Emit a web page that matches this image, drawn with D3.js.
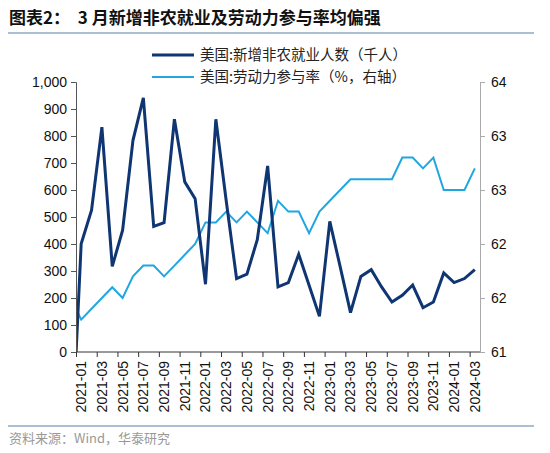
<!DOCTYPE html>
<html>
<head>
<meta charset="utf-8">
<script src="https://cdn.jsdelivr.net/npm/d3@7"></script>
<style>
  html, body { margin: 0; padding: 0; background: #fff; }
  svg { display: block; }
</style>
</head>
<body>
<svg id="chart" width="550" height="453"></svg>
<script>
// ---- Data ----
const months = [
  "2021-01","2021-02","2021-03","2021-04","2021-05","2021-06","2021-07","2021-08","2021-09","2021-10","2021-11","2021-12",
  "2022-01","2022-02","2022-03","2022-04","2022-05","2022-06","2022-07","2022-08","2022-09","2022-10","2022-11","2022-12",
  "2023-01","2023-02","2023-03","2023-04","2023-05","2023-06","2023-07","2023-08","2023-09","2023-10","2023-11","2023-12",
  "2024-01","2024-02","2024-03"
];
// value for 2020-12 (just before the axis start; drawn clipped)
const priorPayrolls = -420;
const priorParticipation = 61.5;
// 美国:新增非农就业人数（千人）
const payrolls = [
  401, 525, 833, 317, 451, 784, 941, 465, 479, 862, 630, 568,
  251, 862, 560, 272, 288, 416, 689, 241, 257, 362, 247, 132,
  484, 316, 146, 280, 305, 241, 185, 210, 248, 164, 185, 293,
  257, 272, 305
];
// 美国:劳动力参与率（%，右轴）
const participation = [
  61.3, 61.4, 61.5, 61.6, 61.5, 61.7, 61.8, 61.8, 61.7, 61.8, 61.9, 62.0,
  62.2, 62.2, 62.3, 62.2, 62.3, 62.2, 62.1, 62.4, 62.3, 62.3, 62.1, 62.3,
  62.4, 62.5, 62.6, 62.6, 62.6, 62.6, 62.6, 62.8, 62.8, 62.7, 62.8, 62.5,
  62.5, 62.5, 62.7
];
const leftTicks = [0, 100, 200, 300, 400, 500, 600, 700, 800, 900, 1000];
const rightTicks = [61, 61.5, 62, 62.5, 63, 63.5];
const rightTickLabels = ["61", "62", "62", "63", "63", "64"];
const seriesNames = ["美国:新增非农就业人数（千人）", "美国:劳动力参与率（%，右轴）"];
const titleText = "图表2：  3 月新增非农就业及劳动力参与率均偏强";
const sourceText = "资料来源：Wind，华泰研究";

// ---- Layout ----
const svg = d3.select("#chart");
const pLeft = 76, pRight = 480, pTop = 82, pBottom = 352;
const navy = "#0f3572", sky = "#21a6e0";
const cjk = "'Noto Sans CJK SC', 'Noto Sans', sans-serif";
const latin = "'Liberation Sans', Arial, sans-serif";

const x = d3.scaleLinear().domain([-0.5, months.length - 0.5]).range([pLeft, pRight]);
const yL = d3.scaleLinear().domain([0, 1000]).range([pBottom, pTop]);
const yR = d3.scaleLinear().domain([61, 63.5]).range([pBottom, pTop]);

// Title
svg.append("text").attr("x", 9).attr("y", 24)
  .attr("font-family", cjk).attr("font-weight", "bold").attr("font-size", 17)
  .attr("fill", "#111").attr("xml:space", "preserve").text(titleText);
svg.append("line").attr("x1", 8).attr("x2", 534).attr("y1", 33).attr("y2", 33)
  .attr("stroke", "#5a7fa8").attr("stroke-width", 1.2);

// Legend
const legend = [
  {name: seriesNames[0], color: navy, w: 3, y: 55},
  {name: seriesNames[1], color: sky, w: 2, y: 77}
];
legend.forEach(l => {
  svg.append("line").attr("x1", 152).attr("x2", 194).attr("y1", l.y).attr("y2", l.y)
    .attr("stroke", l.color).attr("stroke-width", l.w);
  svg.append("text").attr("x", 200).attr("y", l.y).attr("dy", "0.36em")
    .attr("font-family", cjk).attr("font-size", 14.5).attr("fill", "#222").text(l.name);
});

// Clip
svg.append("clipPath").attr("id", "plotclip").append("rect")
  .attr("x", pLeft).attr("y", pTop - 10).attr("width", pRight - pLeft).attr("height", pBottom - pTop + 10);

// Lines
const payData = [{i: -1, v: priorPayrolls}].concat(payrolls.map((v, i) => ({i, v})));
const lfpData = [{i: -1, v: priorParticipation}].concat(participation.map((v, i) => ({i, v})));

const g = svg.append("g").attr("clip-path", "url(#plotclip)");
g.append("path").datum(lfpData)
  .attr("fill", "none").attr("stroke", sky).attr("stroke-width", 2).attr("stroke-linejoin", "miter")
  .attr("d", d3.line().x(d => x(d.i)).y(d => yR(d.v)));
g.append("path").datum(payData)
  .attr("fill", "none").attr("stroke", navy).attr("stroke-width", 3).attr("stroke-linejoin", "miter")
  .attr("d", d3.line().x(d => x(d.i)).y(d => yL(d.v)));

// Left axis
const axL = svg.append("g").attr("transform", `translate(${pLeft},0)`)
  .call(d3.axisLeft(yL).tickValues(leftTicks).tickSize(5).tickPadding(4).tickFormat(d3.format(",")));
axL.select(".domain").attr("stroke", "#555");
axL.selectAll(".tick line").attr("stroke", "#555");
axL.selectAll("text").attr("font-family", latin).attr("font-size", 14).attr("fill", "#111");

// Right axis
const axR = svg.append("g").attr("transform", `translate(${pRight},0)`)
  .call(d3.axisRight(yR).tickValues(rightTicks).tickSize(5).tickPadding(6)
    .tickFormat((d, i) => rightTickLabels[i]));
axR.select(".domain").attr("stroke", "#aaa");
axR.selectAll(".tick line").attr("stroke", "#aaa");
axR.selectAll("text").attr("font-family", latin).attr("font-size", 14).attr("fill", "#111");

// Bottom axis: ticks at category boundaries every 2 months, labels at category centers
const tickIdx = d3.range(-0.5, months.length - 1, 2);
const axB = svg.append("g").attr("transform", `translate(0,${pBottom})`)
  .call(d3.axisBottom(x).tickValues(tickIdx).tickSize(5).tickFormat(""));
axB.select(".domain").attr("stroke", "#333").attr("d", `M${pLeft},0H${pRight}`);
axB.selectAll(".tick line").attr("stroke", "#333");

const labelIdx = d3.range(0, months.length, 2);
svg.append("g").selectAll("text").data(labelIdx).join("text")
  .attr("transform", d => `translate(${x(d)},${pBottom + 9}) rotate(-90)`)
  .attr("text-anchor", "end").attr("dy", "0.35em")
  .attr("font-family", latin).attr("font-size", 14).attr("fill", "#111")
  .text(d => months[d]);

// Footer
svg.append("line").attr("x1", 8).attr("x2", 534).attr("y1", 426).attr("y2", 426)
  .attr("stroke", "#5a7fa8").attr("stroke-width", 1.2);
svg.append("text").attr("x", 9).attr("y", 443)
  .attr("font-family", cjk).attr("font-size", 13).attr("fill", "#999").text(sourceText);
</script>
</body>
</html>
